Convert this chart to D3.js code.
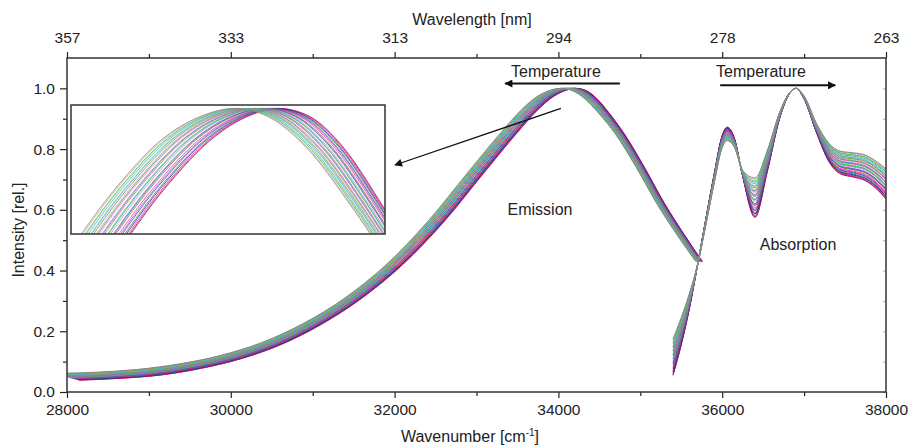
<!DOCTYPE html>
<html>
<head>
<meta charset="utf-8">
<script src="https://cdn.jsdelivr.net/npm/d3@7"></script>
<style>
  body { margin: 0; background: #fff; }
  svg text { font-family: "Liberation Sans", Arial, sans-serif; fill: #222; }
</style>
</head>
<body>
<svg id="chart" width="909" height="447"></svg>
<script>
// Axis ticks
var wavenumber_ticks = [28000, 30000, 32000, 34000, 36000, 38000]
var wavenumber_minor = [29000, 31000, 33000, 35000, 37000]
var wavelength_labels = ['357', '333', '313', '294', '278', '263']
var intensity_ticks = [0.0, 0.2, 0.4, 0.6, 0.8, 1.0]
var intensity_minor = [0.1, 0.3, 0.5, 0.7, 0.9]

// Emission: mean curve, and how far the bundle spreads at each point
var em_w = [28000, 28500, 29000, 29500, 30000, 30500, 31000, 31500, 32000, 32500, 33000, 33400, 33650, 33850, 34000, 34120, 34250, 34400, 34550, 34750, 35000, 35250, 35500, 35717]
var em_i = [0.050, 0.055, 0.065, 0.085, 0.115, 0.160, 0.225, 0.310, 0.420, 0.560, 0.725, 0.855, 0.930, 0.975, 0.994, 1.000, 0.993, 0.965, 0.920, 0.850, 0.740, 0.620, 0.515, 0.430]
var em_spread_w = [300, 300, 300, 280, 260, 240, 220, 210, 200, 200, 200, 200, 200, 200, 190, 180, 170, 150, 130, 110, 100, 95, 90, 80]
var em_spread_i = [0.022, 0.020, 0.018, 0.014, 0.010, 0.006, 0.003, 0, 0, 0, 0, 0, 0, 0, 0, 0, 0, 0, 0, 0, 0, 0, 0, 0]

// Absorption: mean curve, and the spread of the bundle at each point
var abs_w = [35400, 35500, 35600, 35700, 35800, 35900, 36000, 36060, 36150, 36250, 36400, 36550, 36700, 36800, 36900, 37000, 37150, 37300, 37450, 37600, 37750, 37880, 38000]
var abs_i = [0.115, 0.200, 0.300, 0.420, 0.560, 0.700, 0.825, 0.850, 0.820, 0.720, 0.640, 0.760, 0.910, 0.975, 1.000, 0.970, 0.870, 0.790, 0.755, 0.748, 0.738, 0.715, 0.685]
var abs_spread = [0.12, 0.09, 0.05, 0.0, -0.02, -0.03, -0.04, -0.045, -0.03, 0.02, 0.13, 0.07, 0.02, 0.005, 0.0, 0.01, 0.03, 0.06, 0.075, 0.08, 0.085, 0.09, 0.10]

// One entry per temperature (0 = coldest, 1 = hottest) and its line colour
var temps = [0.00, 0.02, 0.05, 0.09, 0.12, 0.17, 0.20, 0.24, 0.30, 0.33, 0.35, 0.41, 0.45, 0.47, 0.53, 0.56, 0.58, 0.64, 0.67, 0.70, 0.75, 0.79, 0.81, 0.86, 0.90, 0.92, 0.97, 1.00]
var colors = ['#800080', '#dc143c', '#c71585', '#0000cd', '#228b22', '#8b008b', '#4169e1', '#ff1493',
  '#a0522d', '#008080', '#6a5acd', '#da70d6', '#00a0a8', '#32cd32', '#cd5c5c', '#4682b4',
  '#9370db', '#ff69b4', '#2e8b57', '#a8a8a8', '#808000', '#6495ed', '#5fb8d8', '#20b2aa',
  '#9acd32', '#3cb371', '#c89090', '#7f7f7f']

var svg = d3.select('#chart')

var x = d3.scaleLinear().domain([28000, 38000]).range([67, 886])
var y = d3.scaleLinear().domain([0, 1.1]).range([392, 58])

// Build the curves
function emission_curve(t) {
  return em_w.map((w, k) => [w - (t - 0.5) * em_spread_w[k], em_i[k] + (t - 0.5) * em_spread_i[k]])
}
function absorption_curve(t) {
  return abs_w.map((w, k) => [w, abs_i[k] + (t - 0.5) * abs_spread[k]])
}

var defs = svg.append('defs')
defs.append('clipPath').attr('id', 'clip-main')
  .append('rect')
  .attr('x', x.range()[0]).attr('y', y.range()[1])
  .attr('width', x.range()[1] - x.range()[0])
  .attr('height', y.range()[0] - y.range()[1])

defs.append('marker')
  .attr('id', 'head-big')
  .attr('viewBox', '0 0 10 10')
  .attr('refX', 9).attr('refY', 5)
  .attr('markerWidth', 6).attr('markerHeight', 4)
  .attr('markerUnits', 'strokeWidth')
  .attr('orient', 'auto')
  .append('path').attr('d', 'M0,0L10,5L0,10Z').attr('fill', '#111')

defs.append('marker')
  .attr('id', 'head-small')
  .attr('viewBox', '0 0 10 10')
  .attr('refX', 9).attr('refY', 5)
  .attr('markerWidth', 9).attr('markerHeight', 6)
  .attr('markerUnits', 'strokeWidth')
  .attr('orient', 'auto')
  .append('path').attr('d', 'M0,0L10,5L0,10Z').attr('fill', '#111')

// Main curves
var line_main = d3.line()
  .x(d => x(d[0]))
  .y(d => y(d[1]))
  .curve(d3.curveMonotoneX)

var g_lines = svg.append('g').attr('clip-path', 'url(#clip-main)')
temps.forEach((t, i) => {
  g_lines.append('path')
    .attr('d', line_main(emission_curve(t)))
    .attr('fill', 'none')
    .attr('stroke', colors[i])
    .attr('stroke-width', 1)
    .attr('opacity', 0.9)
  g_lines.append('path')
    .attr('d', line_main(absorption_curve(t)))
    .attr('fill', 'none')
    .attr('stroke', colors[i])
    .attr('stroke-width', 1)
    .attr('opacity', 0.9)
})

// Axes
function style_axis(g) {
  g.select('.domain').remove()
  g.selectAll('line').attr('stroke', '#222').attr('stroke-width', 1.2)
  g.selectAll('text').style('font-size', '15.5px').attr('fill', '#222')
    .style('font-family', '"Liberation Sans", Arial, sans-serif')
}

svg.append('g')
  .attr('transform', 'translate(0,' + y.range()[0] + ')')
  .call(d3.axisBottom(x).tickValues(wavenumber_ticks).tickSize(6).tickPadding(6).tickFormat(d3.format('d')))
  .call(style_axis)
svg.append('g')
  .attr('transform', 'translate(0,' + y.range()[0] + ')')
  .call(d3.axisBottom(x).tickValues(wavenumber_minor).tickSize(4).tickFormat(''))
  .call(style_axis)

svg.append('g')
  .attr('transform', 'translate(0,' + y.range()[1] + ')')
  .call(d3.axisTop(x).tickValues(wavenumber_ticks).tickSize(6).tickPadding(9)
    .tickFormat((d, i) => wavelength_labels[i]))
  .call(style_axis)
svg.append('g')
  .attr('transform', 'translate(0,' + y.range()[1] + ')')
  .call(d3.axisTop(x).tickValues(wavenumber_minor).tickSize(4).tickFormat(''))
  .call(style_axis)

svg.append('g')
  .attr('transform', 'translate(' + x.range()[0] + ',0)')
  .call(d3.axisLeft(y).tickValues(intensity_ticks).tickSize(7).tickPadding(5).tickFormat(d3.format('.1f')))
  .call(style_axis)
svg.append('g')
  .attr('transform', 'translate(' + x.range()[0] + ',0)')
  .call(d3.axisLeft(y).tickValues(intensity_minor).tickSize(4).tickFormat(''))
  .call(style_axis)

// faint inner ticks on the right side
svg.append('g')
  .attr('transform', 'translate(' + x.range()[1] + ',0)')
  .call(d3.axisLeft(y).tickValues(intensity_ticks.concat(intensity_minor)).tickSize(3).tickFormat(''))
  .call(style_axis)
  .selectAll('line').attr('stroke', '#bbb')

// Frame
svg.append('rect')
  .attr('x', x.range()[0]).attr('y', y.range()[1])
  .attr('width', x.range()[1] - x.range()[0])
  .attr('height', y.range()[0] - y.range()[1])
  .attr('fill', 'none')
  .attr('stroke', '#333')
  .attr('stroke-width', 1.5)

// Axis titles
svg.append('text')
  .attr('x', 472).attr('y', 25)
  .attr('text-anchor', 'middle')
  .style('font-size', '16px')
  .text('Wavelength [nm]')

var xt = svg.append('text')
  .attr('x', 470).attr('y', 442)
  .attr('text-anchor', 'middle')
  .style('font-size', '16px')
xt.append('tspan').text('Wavenumber [cm')
xt.append('tspan').attr('dy', -6).style('font-size', '10px').text('-1')
xt.append('tspan').attr('dy', 6).text(']')

svg.append('text')
  .attr('transform', 'translate(24,230) rotate(-90)')
  .attr('text-anchor', 'middle')
  .style('font-size', '16px')
  .text('Intensity [rel.]')

// Annotations
svg.append('text').attr('x', x(33970)).attr('y', y(1.036))
  .attr('text-anchor', 'middle').style('font-size', '16px').text('Temperature')
svg.append('line')
  .attr('x1', x(34750)).attr('y1', y(1.016))
  .attr('x2', x(33350)).attr('y2', y(1.016))
  .attr('stroke', '#111').attr('stroke-width', 2)
  .attr('marker-end', 'url(#head-big)')

svg.append('text').attr('x', x(36474)).attr('y', y(1.039))
  .attr('text-anchor', 'middle').style('font-size', '16px').text('Temperature')
svg.append('line')
  .attr('x1', x(35975)).attr('y1', y(1.01))
  .attr('x2', x(37380)).attr('y2', y(1.01))
  .attr('stroke', '#111').attr('stroke-width', 2)
  .attr('marker-end', 'url(#head-big)')

svg.append('text').attr('x', x(33775)).attr('y', y(0.582))
  .attr('text-anchor', 'middle').style('font-size', '16px').text('Emission')
svg.append('text').attr('x', x(36926)).attr('y', y(0.469))
  .attr('text-anchor', 'middle').style('font-size', '16px').text('Absorption')

// Inset box with a close-up of the emission maximum
var inset = { left: 71, right: 385, top: 105, bottom: 234 }
var xi = d3.scaleLinear().domain([33370, 34640]).range([inset.left, inset.right])
var yi = d3.scaleLinear().domain([0.89, 1.003]).range([inset.bottom, inset.top])

defs.append('clipPath').attr('id', 'clip-inset')
  .append('rect')
  .attr('x', inset.left).attr('y', inset.top)
  .attr('width', inset.right - inset.left)
  .attr('height', inset.bottom - inset.top)

svg.append('rect')
  .attr('x', inset.left).attr('y', inset.top)
  .attr('width', inset.right - inset.left)
  .attr('height', inset.bottom - inset.top)
  .attr('fill', '#fff')

var line_inset = d3.line()
  .x(d => xi(d[0]))
  .y(d => yi(d[1]))
  .curve(d3.curveMonotoneX)

var g_inset = svg.append('g').attr('clip-path', 'url(#clip-inset)')
temps.forEach((t, i) => {
  g_inset.append('path')
    .attr('d', line_inset(emission_curve(t)))
    .attr('fill', 'none')
    .attr('stroke', colors[i])
    .attr('stroke-width', 1)
    .attr('opacity', 0.7)
})

svg.append('rect')
  .attr('x', inset.left).attr('y', inset.top)
  .attr('width', inset.right - inset.left)
  .attr('height', inset.bottom - inset.top)
  .attr('fill', 'none')
  .attr('stroke', '#333')
  .attr('stroke-width', 1.5)

// Pointer from the peak to the inset
svg.append('line')
  .attr('x1', x(34030)).attr('y1', y(0.934))
  .attr('x2', 395).attr('y2', 165)
  .attr('stroke', '#111').attr('stroke-width', 1.3)
  .attr('marker-end', 'url(#head-small)')
</script>
</body>
</html>
